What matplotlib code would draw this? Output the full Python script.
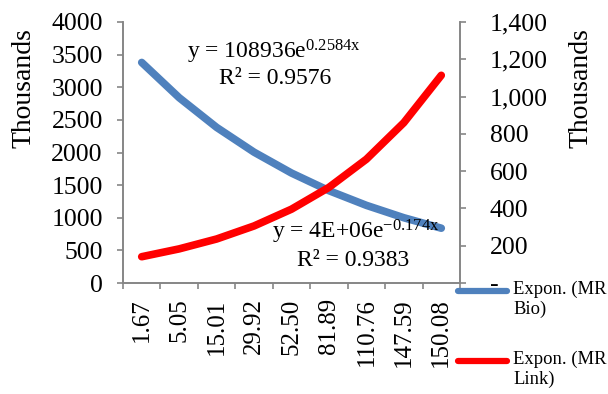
import matplotlib
matplotlib.use("Agg")
import matplotlib.pyplot as plt
from matplotlib.lines import Line2D
from matplotlib.ticker import FixedLocator, FuncFormatter

plt.rcParams['font.family'] = ['Liberation Serif', 'DejaVu Serif']
plt.rcParams['mathtext.fontset'] = 'custom'
plt.rcParams['mathtext.rm'] = 'Liberation Serif'
plt.rcParams['mathtext.it'] = 'Liberation Serif:italic'

# category labels on the x axis
categories = ['1.67', '5.05', '15.01', '29.92', '52.50', '81.89', '110.76', '147.59', '150.08']
# trend values, thousands
mr_bio = [3380, 2840, 2385, 2005, 1685, 1415, 1190, 1000, 840]
mr_link = [141, 183, 236, 306, 396, 513, 664, 860, 1114]
labels = ['Expon. (MR\nBio)', 'Expon. (MR\nLink)']

blue = '#4f81bd'
red = '#ff0000'
grey = '#868686'

W, H = 608, 394
fig = plt.figure(figsize=(W / 100, H / 100), dpi=100)
ax = fig.add_axes([123 / W, 1 - 283 / H, (460 - 123) / W, (283 - 22) / H])
ax2 = ax.twinx()

pos = list(range(len(categories)))
ax.plot(pos, mr_bio, color=blue, lw=5.5, solid_capstyle='round')
ax2.plot(pos, mr_link, color=red, lw=5.5, solid_capstyle='round')

ax.set_xlim(-0.5, len(categories) - 0.5)
ax.set_ylim(0, 4000)
ax2.set_ylim(0, 1400)
ax.set_yticks(range(0, 4001, 500))
ax2.set_yticks(range(0, 1401, 200))
ax2.yaxis.set_major_formatter(FuncFormatter(lambda v, p: '-' if v == 0 else f'{int(v):,}'))

# ticks on category borders, labels at centers
ax.xaxis.set_major_locator(FixedLocator([i - 0.5 for i in range(len(categories) + 1)]))
ax.xaxis.set_major_formatter(FuncFormatter(lambda v, p: ''))
ax.xaxis.set_minor_locator(FixedLocator(pos))
ax.set_xticklabels(categories, minor=True, rotation=90, fontsize=18)
ax.tick_params(axis='x', which='minor', length=0, pad=11)
ax.tick_params(axis='x', which='major', length=4.5, color=grey, width=1.2)

ax.tick_params(axis='y', labelsize=18.5, length=4.5, color=grey, width=1.2, pad=10)
ax2.tick_params(axis='y', labelsize=18.5, length=4.5, color=grey, width=1.2, pad=17)
for t in ax2.get_yticklabels():
    t.set_ha('left')

for a in (ax, ax2):
    a.spines['top'].set_visible(False)
    for s in ('left', 'right', 'bottom'):
        a.spines[s].set_color(grey)
        a.spines[s].set_linewidth(1.2)

ax.set_ylabel('Thousands', fontsize=20)
ax.yaxis.set_label_coords((36 - 123) / 337, 0.747)
ax2.set_ylabel('Thousands', fontsize=20)
ax2.yaxis.set_label_coords((568 - 123) / 337, 0.747)

ax.text(0.448, 0.885, r'y = 108936e$^{\mathrm{0.2584x}}$', transform=ax.transAxes,
        ha='center', va='center', fontsize=17)
ax.text(0.45, 0.782, 'R² = 0.9576', transform=ax.transAxes,
        ha='center', va='center', fontsize=17)
ax.text(0.69, 0.195, r'y = 4E+06e$^{\mathrm{-0.174x}}$', transform=ax.transAxes,
        ha='center', va='center', fontsize=17)
ax.text(0.683, 0.088, 'R² = 0.9383', transform=ax.transAxes,
        ha='center', va='center', fontsize=17)

# legend, handle aligned with the first text line
for color, label, y in zip([blue, red], labels, [291, 361]):
    fig.add_artist(Line2D([458 / W, 507 / W], [1 - y / H, 1 - y / H], color=color,
                          lw=4.5, solid_capstyle='round', transform=fig.transFigure))
    fig.text(513 / W, 1 - (y - 10) / H, label, fontsize=13.4, va='top', ha='left',
             linespacing=1.15)

fig.savefig('out.png', dpi=100)
